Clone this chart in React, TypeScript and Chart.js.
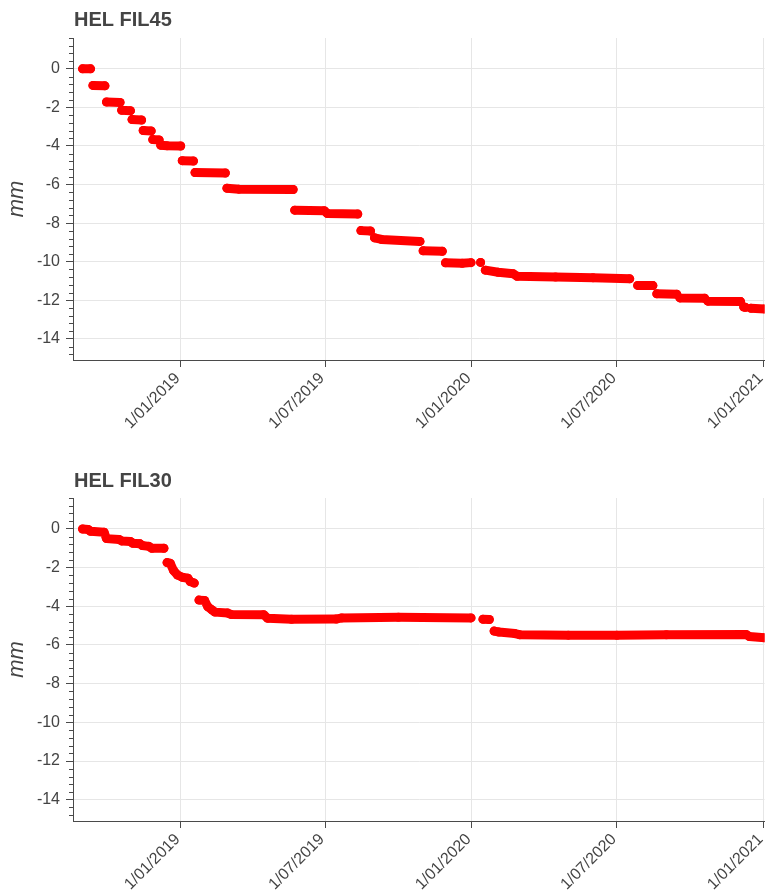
import { useEffect, useRef } from "react";
import { Chart, registerables } from "chart.js";

Chart.register(...registerables);

// Axis extents and tick marks
const xStart = "2018-08-19";
const xEnd = "2021-01-02";
const xTickDates = ["2019-01-01", "2019-07-01", "2020-01-01", "2020-07-01", "2021-01-01"];
const xTickLabels = ["1/01/2019", "1/07/2019", "1/01/2020", "1/07/2020", "1/01/2021"];
const yTickValues = [0, -2, -4, -6, -8, -10, -12, -14];
const yMin = -15.1;
const yMax = 1.6;
const yMinorStep = 0.4;

// HEL FIL45 readings (null marks a break between runs)
const fil45Dates = [
  "2018-08-31", "2018-09-10", "2018-09-10",
  "2018-09-13", "2018-09-28", "2018-09-28",
  "2018-09-30", "2018-10-17", "2018-10-17",
  "2018-10-19", "2018-10-30", "2018-10-30",
  "2018-11-01", "2018-11-13", "2018-11-13",
  "2018-11-15", "2018-11-25", "2018-11-25",
  "2018-11-27", "2018-12-05", "2018-12-05",
  "2018-12-07", "2018-12-15", "2019-01-01", "2019-01-01",
  "2019-01-03", "2019-01-17", "2019-01-17",
  "2019-01-19", "2019-02-26", "2019-02-26",
  "2019-02-28", "2019-03-15", "2019-05-22", "2019-05-22",
  "2019-05-24", "2019-06-30", "2019-07-04", "2019-08-11", "2019-08-11",
  "2019-08-15", "2019-08-27", "2019-08-27",
  "2019-09-01", "2019-09-10", "2019-10-28", "2019-10-28",
  "2019-11-01", "2019-11-25", "2019-11-25",
  "2019-11-29", "2019-12-20", "2019-12-31", "2019-12-31",
  "2020-01-12", "2020-01-12",
  "2020-01-18", "2020-02-03", "2020-02-22", "2020-02-27", "2020-04-15", "2020-06-01", "2020-07-17", "2020-07-17",
  "2020-07-27", "2020-08-15", "2020-08-15",
  "2020-08-20", "2020-09-14", "2020-09-14",
  "2020-09-18", "2020-10-19", "2020-10-19",
  "2020-10-23", "2020-12-03", "2020-12-03",
  "2020-12-07", "2020-12-09", "2020-12-09",
  "2020-12-16", "2021-01-02",
];
const fil45Values: (number | null)[] = [
  0, 0, null,
  -0.86, -0.88, null,
  -1.72, -1.74, null,
  -2.15, -2.17, null,
  -2.63, -2.65, null,
  -3.2, -3.22, null,
  -3.67, -3.69, null,
  -3.96, -3.99, -4.0, null,
  -4.76, -4.78, null,
  -5.38, -5.4, null,
  -6.19, -6.24, -6.26, null,
  -7.33, -7.36, -7.5, -7.53, null,
  -8.39, -8.41, null,
  -8.76, -8.85, -8.95, null,
  -9.44, -9.46, null,
  -10.06, -10.08, -10.05, null,
  -10.04, null,
  -10.44, -10.55, -10.63, -10.76, -10.8, -10.84, -10.89, null,
  -11.23, -11.24, null,
  -11.67, -11.69, null,
  -11.88, -11.9, null,
  -12.05, -12.07, null,
  -12.35, -12.37, null,
  -12.42, -12.45,
];

// HEL FIL30 readings (null marks a break between runs)
const fil30Dates = [
  "2018-08-31", "2018-09-07", "2018-09-10", "2018-09-27", "2018-09-30", "2018-10-16", "2018-10-19",
  "2018-10-30", "2018-11-02", "2018-11-11", "2018-11-14", "2018-11-22", "2018-11-26", "2018-12-11", "2018-12-11",
  "2018-12-15", "2018-12-19", "2018-12-23", "2018-12-28", "2019-01-03", "2019-01-10", "2019-01-13", "2019-01-18", "2019-01-18",
  "2019-01-24", "2019-01-31", "2019-02-04", "2019-02-09", "2019-02-13", "2019-03-01", "2019-03-05", "2019-04-15",
  "2019-04-20", "2019-05-20", "2019-07-15", "2019-07-22", "2019-10-01", "2019-12-31", "2019-12-31",
  "2020-01-15", "2020-01-23", "2020-01-23",
  "2020-01-29", "2020-02-04", "2020-02-24", "2020-03-01", "2020-05-01", "2020-07-01", "2020-09-01",
  "2020-12-10", "2020-12-14", "2021-01-02",
];
const fil30Values: (number | null)[] = [
  0, -0.03, -0.12, -0.17, -0.5, -0.55, -0.62,
  -0.65, -0.74, -0.77, -0.86, -0.9, -1.0, -1.0, null,
  -1.74, -1.78, -2.15, -2.38, -2.5, -2.55, -2.72, -2.8, null,
  -3.68, -3.7, -4.02, -4.18, -4.3, -4.35, -4.42, -4.43,
  -4.62, -4.67, -4.66, -4.6, -4.57, -4.6, null,
  -4.67, -4.68, null,
  -5.28, -5.33, -5.41, -5.47, -5.49, -5.5, -5.47,
  -5.46, -5.56, -5.63,
];

const RED = "#ff0000";
const TEXT = "#444444";
const AXIS = "#4a4a4a";
const GRID = "#e6e6e6";
const FONT = "'Liberation Sans', Arial, Helvetica, sans-serif";

const xTickValues = xTickDates.map((d) => Date.parse(d));

function toPoints(dates: string[], values: (number | null)[]) {
  return dates.map((d, i) => ({ x: Date.parse(d), y: values[i] }));
}

// Short unlabelled ticks between the major y ticks
const minorTicks = {
  id: "minorTicks",
  afterDraw(chart: any) {
    const y = chart.scales.y;
    const left = chart.chartArea.left;
    const ctx = chart.ctx;
    ctx.save();
    ctx.strokeStyle = AXIS;
    ctx.lineWidth = 1;
    const kMin = Math.ceil(y.min / yMinorStep);
    const kMax = Math.floor(y.max / yMinorStep);
    for (let k = kMin; k <= kMax; k++) {
      if (k % 5 === 0) continue;
      const py = Math.round(y.getPixelForValue(k * yMinorStep)) + 0.5;
      ctx.beginPath();
      ctx.moveTo(left - 4, py);
      ctx.lineTo(left, py);
      ctx.stroke();
    }
    ctx.restore();
  },
};

function Panel({
  title,
  dates,
  values,
  top,
  height,
  xAxisHeight,
  titleY,
}: {
  title: string;
  dates: string[];
  values: (number | null)[];
  top: number;
  height: number;
  xAxisHeight: number;
  titleY: number;
}) {
  const ref = useRef<HTMLCanvasElement>(null);

  useEffect(() => {
    if (!ref.current) return;
    const panelTitle = {
      id: "panelTitle",
      afterDraw(chart: any) {
        const ctx = chart.ctx;
        ctx.save();
        ctx.font = `bold 20px ${FONT}`;
        ctx.fillStyle = TEXT;
        ctx.textBaseline = "middle";
        ctx.textAlign = "left";
        ctx.fillText(title, chart.chartArea.left + 1, titleY);
        ctx.restore();
      },
    };

    const chart = new Chart(ref.current, {
      type: "line",
      data: {
        datasets: [
          {
            data: toPoints(dates, values) as any,
            borderColor: RED,
            backgroundColor: RED,
            borderWidth: 9,
            borderCapStyle: "round",
            borderJoinStyle: "round",
            pointRadius: 4.5,
            pointHoverRadius: 4.5,
            pointBorderWidth: 0,
            pointBackgroundColor: RED,
            spanGaps: false,
            tension: 0,
            fill: false,
          },
        ],
      },
      options: {
        animation: false,
        responsive: false,
        maintainAspectRatio: false,
        devicePixelRatio: 1,
        events: [],
        layout: { padding: { top: 38, right: 1, left: 0, bottom: 0 } },
        plugins: {
          legend: { display: false },
          tooltip: { enabled: false },
          title: { display: false },
        },
        scales: {
          x: {
            type: "linear",
            min: Date.parse(xStart),
            max: Date.parse(xEnd),
            afterBuildTicks: (s: any) => {
              s.ticks = xTickValues.map((v) => ({ value: v }));
            },
            afterFit: (s: any) => {
              s.height = xAxisHeight;
              s.paddingLeft = 0;
              s.paddingRight = 0;
            },
            ticks: {
              autoSkip: false,
              minRotation: 45,
              maxRotation: 45,
              padding: 2,
              labelOffset: -3,
              color: TEXT,
              font: { family: FONT, size: 16 },
              callback: (v: any) => xTickLabels[xTickValues.indexOf(Number(v))] ?? "",
            },
            grid: { color: GRID, tickColor: AXIS, tickLength: 7, lineWidth: 1 },
            border: { color: AXIS, width: 1 },
          },
          y: {
            type: "linear",
            min: yMin,
            max: yMax,
            afterBuildTicks: (s: any) => {
              s.ticks = yTickValues.map((v) => ({ value: v }));
            },
            afterFit: (s: any) => {
              s.width = 73;
              s.paddingTop = 0;
              s.paddingBottom = 0;
            },
            ticks: {
              padding: 6,
              color: TEXT,
              font: { family: FONT, size: 16 },
            },
            title: {
              display: true,
              text: "mm",
              color: TEXT,
              font: { family: FONT, size: 22, style: "italic" },
              padding: { top: 4, bottom: 4 },
            },
            grid: { color: GRID, tickColor: AXIS, tickLength: 7, lineWidth: 1 },
            border: { color: AXIS, width: 1 },
          },
        },
      },
      plugins: [minorTicks, panelTitle],
    } as any);

    return () => chart.destroy();
  }, [title, dates, values, height, xAxisHeight, titleY]);

  return (
    <canvas
      ref={ref}
      width={769}
      height={height}
      style={{ position: "absolute", left: 0, top, width: 769, height, display: "block" }}
    />
  );
}

export default function App() {
  return (
    <div
      style={{
        position: "absolute",
        left: 0,
        top: 0,
        width: 769,
        height: 892,
        background: "#ffffff",
        overflow: "hidden",
      }}
    >
      <Panel title="HEL FIL45" dates={fil45Dates} values={fil45Values} top={0} height={440} xAxisHeight={80} titleY={20} />
      <Panel title="HEL FIL30" dates={fil30Dates} values={fil30Values} top={460} height={432} xAxisHeight={71} titleY={21} />
    </div>
  );
}
